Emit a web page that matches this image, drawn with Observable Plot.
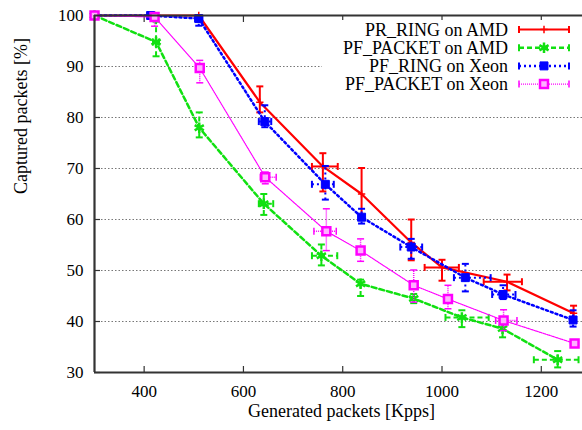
<!DOCTYPE html>
<html><head><meta charset="utf-8">
<script src="https://cdn.jsdelivr.net/npm/d3@7"></script>
<script src="https://cdn.jsdelivr.net/npm/@observablehq/plot@0.6"></script>
<style>
body{margin:0;background:#fff}
#chart{position:relative;width:582px;height:430px;overflow:hidden}
#chart svg, #chart svg text { font-family: "Liberation Serif", "DejaVu Serif", serif !important; }
</style>
</head><body><div id="chart"></div>
<script>
// ---- data ----
const seriesNames = ["PR_RING on AMD", "PF_PACKET on AMD", "PF_RING on Xeon", "PF_PACKET on Xeon"];

const prRingAmdX   = [300, 422, 510, 633, 760, 838, 938, 1000, 1131, 1265];
const prRingAmdY   = [100, 100, 100, 83.0, 70.4, 65.0, 55.5, 50.6, 47.8, 41.6];
const prRingAmdYlo = [100, 99.6, 98.8, 81.0, 65.5, 60.0, 52.0, 48.0, 46.1, 39.9];
const prRingAmdYhi = [100, 100, 100, 86.1, 73.0, 70.1, 60.0, 52.1, 49.2, 43.1];
const prRingAmdXlo = [300, 422, 510, 633, 738, 838, 938, 965, 1084, 1265];
const prRingAmdXhi = [300, 422, 510, 633, 790, 838, 938, 1034, 1161, 1265];

const pfPacketAmdX   = [300, 424, 511, 641, 757, 836, 943, 1040, 1122, 1233];
const pfPacketAmdY   = [100, 94.8, 78.0, 63.1, 52.9, 47.4, 44.5, 40.8, 38.6, 32.5];
const pfPacketAmdYlo = [100, 92.0, 76.1, 60.9, 51.0, 45.0, 43.6, 38.9, 36.9, 31.0];
const pfPacketAmdYhi = [100, 98.8, 81.0, 65.0, 55.1, 48.2, 45.4, 42.2, 39.9, 34.2];
const pfPacketAmdXlo = [300, 418, 511, 631, 738, 836, 943, 1007, 1122, 1185];
const pfPacketAmdXhi = [300, 430, 511, 660, 789, 836, 943, 1094, 1122, 1275];

const pfRingXeonX   = [300, 413, 510, 643, 765, 838, 938, 1047, 1123, 1264];
const pfRingXeonY   = [100, 100, 99.4, 79.2, 66.9, 60.45, 54.6, 48.6, 45.3, 40.3];
const pfRingXeonYlo = [100, 99.5, 98.0, 78.1, 63.9, 59.2, 52.3, 45.9, 44.4, 39.0];
const pfRingXeonYhi = [100, 100, 100, 82.4, 70.5, 62.1, 56.2, 51.3, 47.1, 42.2];
const pfRingXeonXlo = [300, 413, 503, 631, 738, 838, 916, 1024, 1101, 1264];
const pfRingXeonXhi = [300, 413, 517, 656, 782, 838, 960, 1098, 1148, 1264];

const pfPacketXeonX   = [300, 421, 512, 644, 767, 836, 943, 1012, 1124, 1267];
const pfPacketXeonY   = [100, 99.7, 89.7, 68.3, 57.7, 53.9, 47.1, 44.4, 40.2, 35.7];
const pfPacketXeonYlo = [100, 97.9, 86.8, 67.0, 53.9, 51.8, 43.8, 42.5, 38.2, 35.2];
const pfPacketXeonYhi = [100, 100, 91.2, 69.3, 62.1, 56.2, 50.1, 47.1, 42.3, 36.2];
const pfPacketXeonXlo = [300, 421, 512, 634, 742, 836, 943, 1012, 1108, 1267];
const pfPacketXeonXhi = [300, 421, 512, 666, 787, 836, 943, 1012, 1151, 1267];

const xTicks = [400, 600, 800, 1000, 1200];
const yTicks = [30, 40, 50, 60, 70, 80, 90, 100];
const xTitle = "Generated packets [Kpps]";
const yTitle = "Captured packets [%]";

// ---- styles ----
const FONT = "Liberation Serif, DejaVu Serif, serif";
const styles = [
  {color: "#ff0000", dash: null,    width: 2.2, ebWidth: 2,   symbol: "plus",     r: 2.5, fill: "none",    sw: 1.5},
  {color: "#11e011", dash: "5,3",   width: 2.5, ebWidth: 2,   symbol: "asterisk", r: 5,   fill: "none",    sw: 2.5},
  {color: "#0000ff", dash: "2,3",   width: 2.5, ebWidth: 2,   symbol: "square",   r: 4.5, fill: "#0000ff", sw: 1},
  {color: "#ff00ff", dash: "1,1",   width: 1.2, ebWidth: 1.5, symbol: "square",   r: 4.5, fill: "#ffb0ff", sw: 2.5}
];

function table(name, X, Y, Ylo, Yhi, Xlo, Xhi) {
  return X.map((x, i) => ({series: name, x, y: Y[i], ylo: Ylo[i], yhi: Yhi[i], xlo: Xlo[i], xhi: Xhi[i]}));
}
const tables = [
  table(seriesNames[0], prRingAmdX, prRingAmdY, prRingAmdYlo, prRingAmdYhi, prRingAmdXlo, prRingAmdXhi),
  table(seriesNames[1], pfPacketAmdX, pfPacketAmdY, pfPacketAmdYlo, pfPacketAmdYhi, pfPacketAmdXlo, pfPacketAmdXhi),
  table(seriesNames[2], pfRingXeonX, pfRingXeonY, pfRingXeonYlo, pfRingXeonYhi, pfRingXeonXlo, pfRingXeonXhi),
  table(seriesNames[3], pfPacketXeonX, pfPacketXeonY, pfPacketXeonYlo, pfPacketXeonYhi, pfPacketXeonXlo, pfPacketXeonXhi)
];

// custom cap symbols
const capH = {draw(ctx, size) { const h = Math.sqrt(size / Math.PI); ctx.moveTo(-h, 0); ctx.lineTo(h, 0); }};
const capV = {draw(ctx, size) { const h = Math.sqrt(size / Math.PI); ctx.moveTo(0, -h); ctx.lineTo(0, h); }};

const seriesMarks = [];
tables.forEach((rows, k) => {
  const s = styles[k];
  const vrows = rows.filter(d => d.yhi - d.ylo > 0);
  const hrows = rows.filter(d => d.xhi - d.xlo > 0);
  const common = {stroke: s.color, strokeWidth: s.ebWidth, strokeDasharray: s.dash};
  seriesMarks.push(
    Plot.line(rows, {x: "x", y: "y", stroke: s.color, strokeWidth: s.width, strokeDasharray: s.dash}),
    Plot.link(vrows, {x1: "x", x2: "x", y1: "ylo", y2: "yhi", ...common}),
    Plot.link(hrows, {x1: "xlo", x2: "xhi", y1: "y", y2: "y", ...common}),
    Plot.dot(vrows, {x: "x", y: "ylo", symbol: capH, r: 3.5, fill: "none", stroke: s.color, strokeWidth: s.ebWidth}),
    Plot.dot(vrows, {x: "x", y: "yhi", symbol: capH, r: 3.5, fill: "none", stroke: s.color, strokeWidth: s.ebWidth}),
    Plot.dot(hrows, {x: "xlo", y: "y", symbol: capV, r: 3.5, fill: "none", stroke: s.color, strokeWidth: s.ebWidth}),
    Plot.dot(hrows, {x: "xhi", y: "y", symbol: capV, r: 3.5, fill: "none", stroke: s.color, strokeWidth: s.ebWidth}),
    Plot.dot(rows, {x: "x", y: "y", symbol: s.symbol, r: s.r, fill: s.fill, stroke: s.color, strokeWidth: s.sw})
  );
});

const axisColor = "#333";
const fmt = d3.format("d");
const chart = Plot.plot({
  width: 582,
  height: 430,
  marginLeft: 94,
  marginRight: 0,
  marginTop: 15,
  marginBottom: 58,
  style: {fontFamily: FONT, fontSize: "17px", color: "#000", background: "#fff", overflow: "visible"},
  x: {domain: [300, 1283], label: null},
  y: {domain: [30, 100], label: null},
  marks: [
    Plot.gridY(yTicks.filter(v => v > 30 && v < 100), {stroke: "#777", strokeOpacity: 1, strokeDasharray: "1.5,2", strokeWidth: 1}),
    Plot.axisY(yTicks, {tickSize: 0, tickPadding: 11, label: null, fontSize: 17, tickFormat: fmt}),
    Plot.axisY(yTicks, {tickSize: -6, tickFormat: () => "", label: null, stroke: axisColor, strokeWidth: 1.2}),
    Plot.axisX(xTicks, {tickSize: 0, tickPadding: 12, label: null, fontSize: 17, tickFormat: fmt}),
    Plot.axisX(xTicks, {tickSize: -6, tickFormat: () => "", label: null, stroke: axisColor, strokeWidth: 1.2}),
    Plot.axisX(xTicks, {anchor: "top", tickSize: -6, tickFormat: () => "", label: null, stroke: axisColor, strokeWidth: 1.2}),
    ...seriesMarks,
    Plot.ruleY([30, 100], {stroke: axisColor, strokeWidth: 2.2}),
    Plot.ruleX([300], {stroke: axisColor, strokeWidth: 2.2}),
    Plot.text([xTitle], {text: d => d, frameAnchor: "bottom", dx: 3, dy: 44, fontSize: 18}),
    Plot.text([yTitle], {text: d => d, frameAnchor: "left", dx: -73, rotate: -90, fontSize: 18})
  ]
});
document.getElementById("chart").appendChild(chart);

// ---- legend (opaque box, inside plot, top-right) ----
const svg = d3.select(chart);
const lg = svg.append("g").style("font-family", FONT).style("font-size", "18px");
lg.append("rect").attr("x", 322).attr("y", 20).attr("width", 260).attr("height", 74).attr("fill", "#fff");
seriesNames.forEach((name, i) => {
  const s = styles[i];
  const cy = 29.5 + i * 18.2;
  lg.append("text").attr("x", 508).attr("y", cy + 6).attr("text-anchor", "end").attr("fill", "#000").text(name);
  const x1 = 519, x2 = 569;
  lg.append("line").attr("x1", x1).attr("x2", x2).attr("y1", cy).attr("y2", cy)
    .attr("stroke", s.color).attr("stroke-width", s.width).attr("stroke-dasharray", s.dash);
  [x1, x2].forEach(x => lg.append("line").attr("x1", x).attr("x2", x).attr("y1", cy - 3.5).attr("y2", cy + 3.5)
    .attr("stroke", s.color).attr("stroke-width", s.ebWidth));
  const symType = {plus: d3.symbolPlus, asterisk: d3.symbolAsterisk, square: d3.symbolSquare}[s.symbol];
  lg.append("path").attr("transform", `translate(${(x1 + x2) / 2},${cy})`)
    .attr("d", d3.symbol(symType, s.r * s.r * Math.PI)())
    .attr("fill", s.fill).attr("stroke", s.color).attr("stroke-width", s.sw);
});
</script>
</body></html>
